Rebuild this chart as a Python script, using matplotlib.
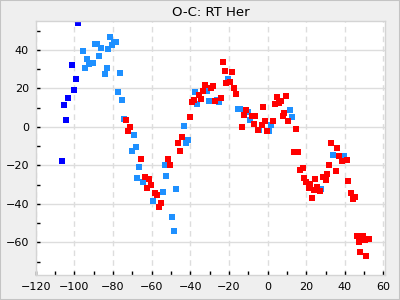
import matplotlib
matplotlib.use("Agg")
import matplotlib.pyplot as plt
from matplotlib.ticker import MultipleLocator
from matplotlib.patches import Rectangle

# O-C data, (epoch offset, O-C)
dark_x = [-98.1, -101.3, -99.1, -100.1, -103.3, -105.3, -104.3, -106.4]
dark_y = [53.9, 32.0, 24.8, 19.0, 14.9, 11.3, 3.5, -17.8]

light_x = [-95.5, -94.4, -93.4, -92.4, -90.3, -89.3, -88.2, -87.2, -86.1, -84.1,
           -83.0, -82.5, -81.5, -80.4, -79.4, -78.4, -76.3, -77.3, -75.3, -74.2,
           -69.0, -68.0, -70.1, -66.4, -67.5, -64.4, -54.0, -59.2, -49.3, -48.2,
           -47.3, -52.5, -53.0, -42.1, -41.0, -43.1, -37.4, -36.4, -31.2, -30.2,
           -26.0, -25.0, -20.3, -15.1, -14.1, -9.9, -8.9, 2.0, -4.2, 0.9,
           11.8, 12.9, 34.1, 39.8, 27.9]
light_y = [39.3, 30.5, 35.2, 32.6, 33.1, 43.0, 43.0, 36.7, 40.9, 27.4,
           30.5, 40.4, 46.6, 42.4, 44.0, 44.0, 27.9, 18.0, 13.9, 4.0,
           -4.3, -10.5, -12.6, -20.9, -26.6, -28.7, -33.9, -38.6, -46.9, -54.2,
           -32.4, -25.6, -19.9, -8.5, -6.9, 0.4, 18.0, 11.8, 18.5, 13.4,
           13.9, 12.8, 24.8, 9.2, 9.2, 7.6, 3.5, 0.9, -1.7, -2.2,
           8.7, 5.0, -14.7, -14.9, -32.4]

red_x = [-73.2, -71.1, -72.2, -65.4, -63.3, -61.3, -60.2, -62.3, -58.2, -57.1,
         -55.0, -56.1, -50.4, -51.4, -45.2, -46.2, -44.2, -40.0, -39.0, -37.9,
         -35.3, -34.3, -33.3, -32.2, -29.1, -28.1, -27.0, -23.9, -22.9, -21.9,
         -18.2, -21.3, -19.3, -17.2, -16.2, -13.0, -12.0, -11.0, -7.9, -6.8,
         -6.3, -2.2, -1.1, 3.0, -5.2, -3.1, -0.1, 5.1, 4.1, 6.1,
         7.2, 9.8, 8.7, 8.2, 10.8, 14.9, 33.1, 36.2, 13.9, 16.0,
         37.2, 38.3, 40.9, 32.0, 35.2, 18.1, 17.0, 19.1, 20.1, 22.2,
         24.8, 28.9, 31.0, 30.0, 21.2, 23.8, 25.8, 26.9, 23.2, 41.9,
         43.0, 44.0, 45.1, 46.1, 49.2, 47.1, 50.2, 52.3, 48.1, 51.2]
red_y = [3.5, -0.2, -2.2, -16.8, -26.1, -27.2, -30.3, -31.8, -34.4, -35.5,
         -39.6, -41.7, -19.9, -16.8, -12.6, -8.5, -5.4, 5.0, 12.8, 13.9,
         16.5, 14.4, 18.5, 21.7, 20.1, 21.1, 13.4, 14.9, 33.6, 28.9,
         28.4, 22.7, 23.2, 20.1, 17.0, -0.2, 6.1, 8.7, 5.6, 1.4,
         5.6, 10.2, 3.0, 3.0, -1.7, 0.9, -2.2, 15.4, 11.8, 12.3,
         13.4, 15.9, 7.1, 5.6, 3.0, -1.2, -8.5, -11.1, -13.1, -13.1,
         -15.2, -17.8, -17.3, -19.9, -23.0, -21.5, -22.5, -26.6, -28.7, -29.8,
         -27.2, -26.1, -24.6, -27.7, -31.8, -32.9, -31.3, -33.4, -36.9, -28.2,
         -34.4, -37.6, -36.5, -56.8, -56.8, -59.9, -58.9, -58.3, -65.1, -67.2]

fig = plt.figure(figsize=(4, 3), dpi=100, facecolor="#efefef")
fig.patches.append(Rectangle((0, 0), 1, 1, transform=fig.transFigure,
                             fill=False, edgecolor="#c4c4c4", linewidth=1.5))
ax = fig.add_axes([0.0895, 0.083, 0.873, 0.846])

ms = 3.7
ax.plot(dark_x, dark_y, "s", color="#0000ff", ms=ms, mew=0)
ax.plot(light_x, light_y, "s", color="#1e90ff", ms=ms, mew=0)
ax.plot(red_x, red_y, "s", color="#ff0000", ms=ms, mew=0)

ax.set_xlim(-120, 60.8)
ax.set_ylim(-77, 54.8)
ax.xaxis.set_major_locator(MultipleLocator(20))
ax.xaxis.set_minor_locator(MultipleLocator(10))
ax.yaxis.set_major_locator(MultipleLocator(20))
ax.yaxis.set_minor_locator(MultipleLocator(10))

ax.grid(axis="x", which="major", color="#dddddd", linestyle=(0, (4, 3)), linewidth=1)
ax.grid(axis="y", which="major", color="#dddddd", linestyle="-", linewidth=1)
ax.set_axisbelow(True)

ax.tick_params(which="both", direction="in", length=3, width=1, color="black",
               labelsize=8, pad=5)
for s in ax.spines.values():
    s.set_color("#d4d4d4")
    s.set_linewidth(1)

ax.set_title("O-C: RT Her", fontsize=9.5, pad=4)

fig.savefig("out.png", dpi=100, facecolor=fig.get_facecolor())
